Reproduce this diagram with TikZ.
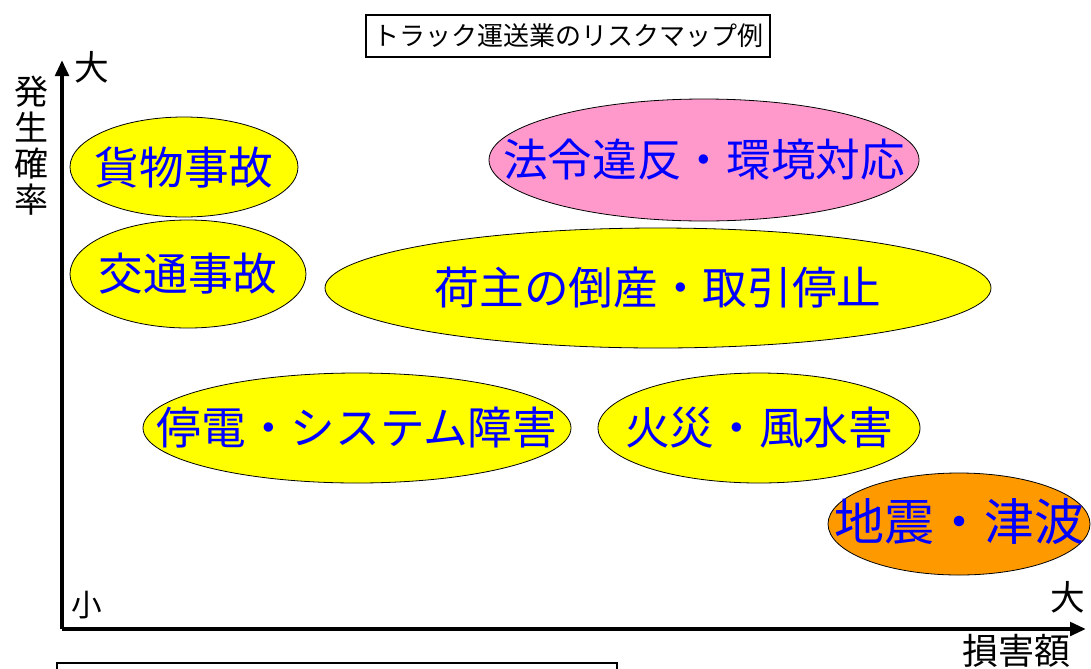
\documentclass[tikz,border=0pt]{standalone}
\usepackage{fontspec}
\setmainfont{Noto Sans CJK JP}
\usetikzlibrary{shapes.geometric,arrows.meta}
\definecolor{ylw}{HTML}{FFFF00}
\definecolor{pnk}{HTML}{FF99CC}
\definecolor{org}{HTML}{FF9900}
\definecolor{txtblue}{HTML}{0000FF}
\tikzset{
  oval/.style={draw=black, line width=0.6pt},
  risk/.style={inner sep=0pt, text=txtblue, font=\fontsize{33.5}{36}\selectfont},
  axis/.style={line width=3pt, -{Triangle[length=12pt,width=10pt]}},
  lbl/.style={inner sep=0pt, font=\fontsize{26}{28}\selectfont},
}
\begin{document}
\begin{tikzpicture}[x=0.75pt,y=-0.75pt]
\useasboundingbox (0,0) rectangle (1091,668);
% title
\node[draw=black, line width=1.5pt, minimum width=303pt, minimum height=31.5pt, inner sep=0pt,
  font=\fontsize{19.5}{22}\selectfont] (title) at (568,36) {トラック運送業のリスクマップ例};
% axes
\coordinate (O) at (62,629);
\coordinate (ytip) at (62,60);
\coordinate (xtip) at (1086,629);
\draw[axis] (O) -- (ytip);
\draw[axis] (O) -- (xtip);
% axis labels
\node[lbl, align=center, font=\fontsize{25.5}{27}\selectfont] (ylab) at (31,146) {発\\生\\確\\率};
\node[lbl] (ybig) at (92,67) {大};
\node[lbl, font=\fontsize{23}{26}\selectfont] (small) at (87,605) {小};
\node[lbl] (xbig) at (1068,597) {大};
\node[lbl, font=\fontsize{27}{30}\selectfont] (xlab) at (1016,651) {損害額};
% ellipses
\path[oval, fill=ylw] (184,167) ellipse [x radius=114, y radius=50];
\node[risk] (e1) at (184,167) {貨物事故};
\path[oval, fill=ylw] (188,274) ellipse [x radius=118, y radius=54];
\node[risk] (e2) at (188,274) {交通事故};
\path[oval, fill=pnk] (704,160) ellipse [x radius=215, y radius=61];
\node[risk] (e3) at (704,160) {法令違反・環境対応};
\path[oval, fill=ylw] (658,288) ellipse [x radius=333, y radius=60];
\node[risk] (e4) at (658,288) {荷主の倒産・取引停止};
\path[oval, fill=ylw] (357,428) ellipse [x radius=214, y radius=55];
\node[risk] (e5) at (357,428) {停電・システム障害};
\path[oval, fill=ylw] (759,428) ellipse [x radius=161, y radius=55];
\node[risk] (e6) at (759,428) {火災・風水害};
\path[oval, fill=org] (959,524) ellipse [x radius=131, y radius=51];
\node[risk, font=\fontsize{37.5}{40}\selectfont] (e7) at (959,522) {地震・津波};
% bottom box (cut off)
\coordinate (b1) at (57,669);
\coordinate (b2) at (57,663);
\coordinate (b3) at (617,663);
\coordinate (b4) at (617,669);
\draw[line width=1.5pt] (b1) -- (b2) -- (b3) -- (b4);
\end{tikzpicture}
\end{document}
